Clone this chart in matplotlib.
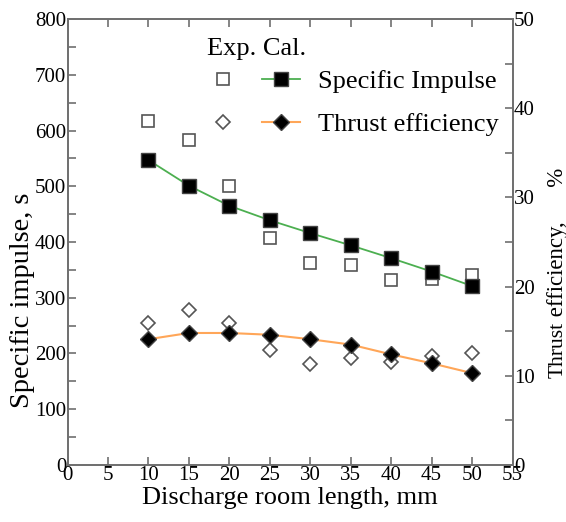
import matplotlib
matplotlib.use("Agg")
import matplotlib.pyplot as plt
from matplotlib.legend_handler import HandlerTuple

plt.rcParams['font.family'] = ['Liberation Serif', 'DejaVu Serif']

# Data
length = [10, 15, 20, 25, 30, 35, 40, 45, 50]
isp_exp = [617, 583, 500, 408, 362, 359, 331, 334, 340]
isp_cal = [547, 501, 465, 439, 416, 394, 371, 347, 321]
eff_exp = [15.9, 17.4, 15.9, 12.9, 11.3, 12.0, 11.5, 12.2, 12.6]
eff_cal = [14.1, 14.8, 14.8, 14.6, 14.1, 13.5, 12.4, 11.4, 10.3]

spine_c = '#707070'

fig = plt.figure(figsize=(5.66, 5.22), dpi=100)
ax = fig.add_axes([0.1193, 0.1092, 0.7862, 0.8544])
ax2 = ax.twinx()

# Specific impulse (left axis)
ax.plot(length, isp_exp, ls='none', marker='s', ms=9, mfc='white',
        mec='#555555', mew=1.2, zorder=3)
line_isp, = ax.plot(length, isp_cal, color='#4caf50', lw=1.3, marker='s', ms=10,
                    mfc='black', mec='#444444', mew=1.0, zorder=4)
exp_isp_h, = ax.plot([], [], ls='none', marker='s', ms=8, mfc='white',
                     mec='#555555', mew=1.2)

# Thrust efficiency (right axis)
ax2.plot(length, eff_exp, ls='none', marker='D', ms=7.5, mfc='white',
         mec='#555555', mew=1.2, zorder=3)
line_eff, = ax2.plot(length, eff_cal, color='#ffa658', lw=1.5, marker='D', ms=8,
                     mfc='black', mec='#444444', mew=1.0, zorder=4)
exp_eff_h, = ax2.plot([], [], ls='none', marker='D', ms=7, mfc='white',
                      mec='#555555', mew=1.2)

ax.set_xlim(0, 55)
ax.set_ylim(0, 800)
ax2.set_ylim(0, 50)
ax.set_xticks(range(0, 56, 5))
ax.set_yticks(range(0, 801, 100))
ax.set_yticks(range(50, 800, 100), minor=True)
ax2.set_yticks(range(0, 51, 10))
ax2.set_yticks(range(5, 50, 10), minor=True)

for a in (ax, ax2):
    for s in a.spines.values():
        s.set_color(spine_c)
        s.set_linewidth(1.3)
ax.tick_params(axis='x', which='both', direction='in', top=True, length=6,
               width=1.2, color=spine_c, labelsize=15, pad=1)
ax.tick_params(axis='y', which='both', direction='in', length=6, width=1.2,
               color=spine_c, labelsize=15, pad=1)
ax2.tick_params(axis='y', which='both', direction='in', length=6, width=1.2,
                color=spine_c, labelsize=15, pad=1)

ax.set_xlabel('Discharge room length, mm', fontsize=19, labelpad=1)
ax.set_ylabel('Specific impulse, s', fontsize=20.5)
ax.yaxis.set_label_coords(-0.072, 0.37)

# right label with two sizes
fig.text(0.994, 0.383, 'Thrust', rotation=90, fontsize=15.5, ha='right',
         va='baseline', rotation_mode='anchor')
fig.text(0.994, 0.383, ' efficiency,      %', rotation=90, fontsize=16.5, ha='left',
         va='baseline', rotation_mode='anchor')

# legend: header text + rows (Exp. marker, Cal. line)
ax.text(0.3135, 0.932, 'Exp. Cal.', transform=ax.transAxes, fontsize=19,
        ha='left', va='center')
leg = ax.legend([(exp_isp_h, line_isp), (exp_eff_h, line_eff)],
                ['Specific Impulse', 'Thrust efficiency'],
                handler_map={tuple: HandlerTuple(ndivide=None, pad=0.76)},
                fontsize=19, loc='upper left', bbox_to_anchor=(0.2955, 0.899),
                frameon=False, handlelength=3.64, handletextpad=0.68,
                labelspacing=0.75, borderaxespad=0, borderpad=0.2)

fig.savefig('out.png', dpi=100)
